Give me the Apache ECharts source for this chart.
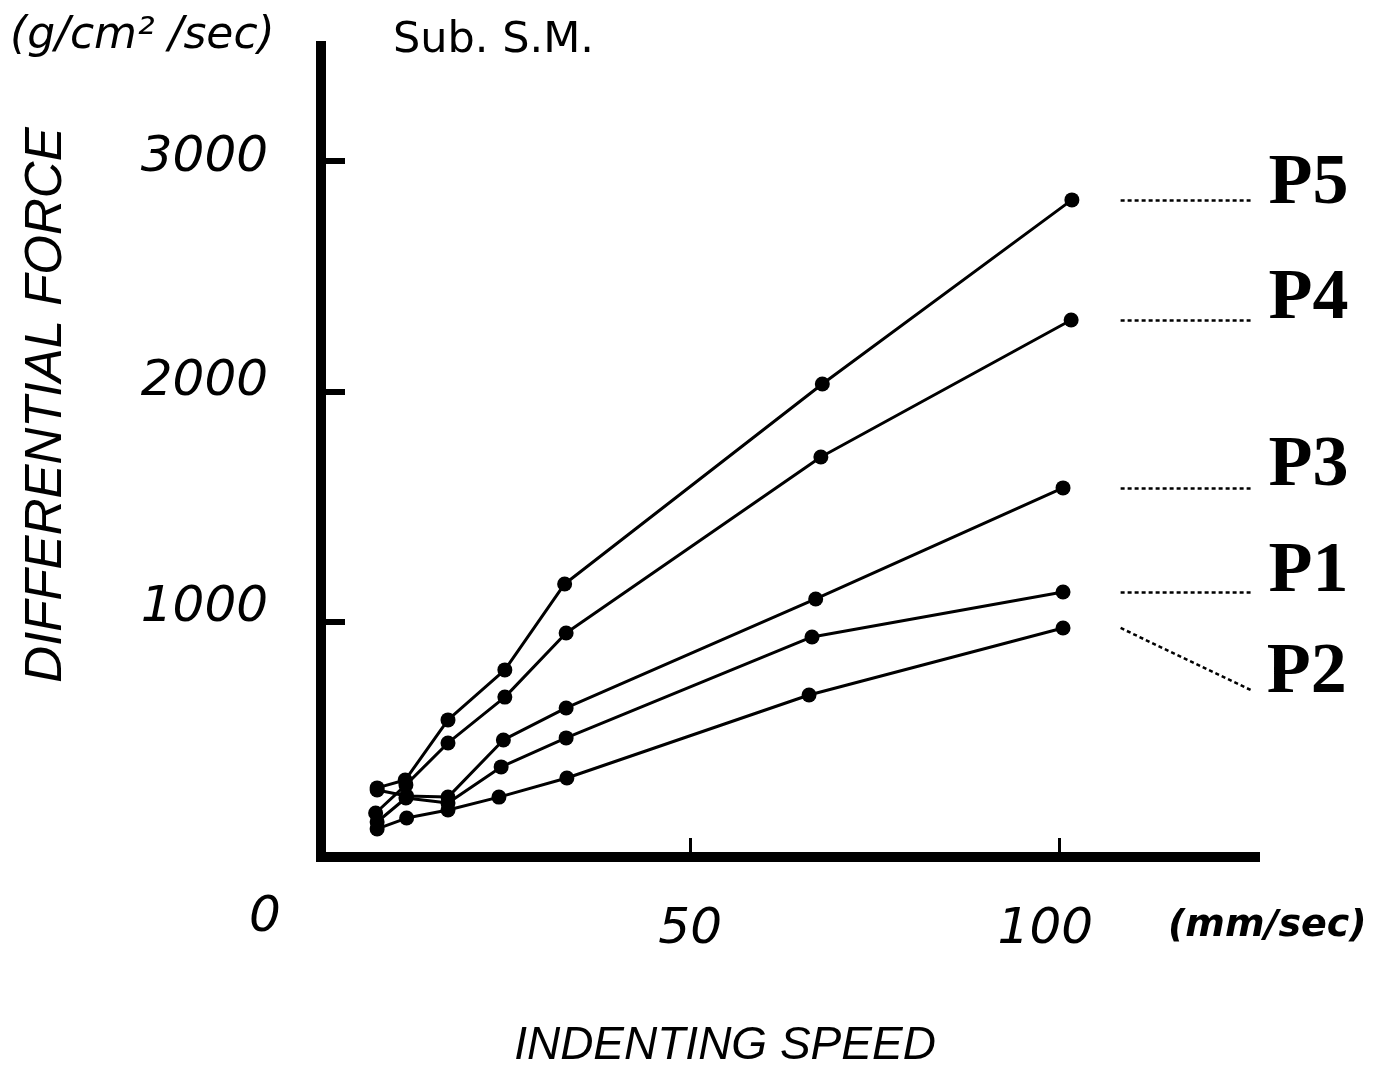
<!DOCTYPE html>
<html><head><meta charset="utf-8">
<script src="https://cdn.jsdelivr.net/npm/echarts@6.0.0/dist/echarts.min.js"></script>
<style>html,body{margin:0;padding:0;background:#fff}#c{width:1373px;height:1070px}</style>
</head><body><div id="c"></div>
<script>
// ---- data ----
const seriesNames = ['P5', 'P4', 'P3', 'P1', 'P2'];
const p5Speed = [7.6, 11.4, 17.2, 24.9, 33.0, 67.9, 101.7];
const p5Force = [280, 314, 575, 792, 1165, 2033, 2832];
const p4Speed = [7.4, 11.5, 17.2, 24.9, 33.2, 67.7, 101.6];
const p4Force = [171, 293, 475, 674, 952, 1716, 2311];
const p3Speed = [7.6, 11.6, 17.2, 24.7, 33.2, 67.0, 100.5];
const p3Force = [271, 245, 240, 488, 627, 1100, 1582];
const p1Speed = [7.6, 11.5, 17.2, 24.4, 33.2, 66.5, 100.5];
const p1Force = [132, 236, 214, 371, 497, 935, 1130];
const p2Speed = [7.6, 11.6, 17.2, 24.1, 33.3, 66.1, 100.5];
const p2Force = [102, 149, 184, 240, 323, 683, 974];
const yTickValues = [1000, 2000, 3000];
const xTickValues = [50, 100];
const xLabelValues = [0, 50, 100];
// leader lines from last point to the P labels (x values), end level of each
const leaderStartX = 108.3;
const leaderEndX = 125.9;
const leaderEndForce = [2832, 2311, 1582, 1130, 705];

const speeds = [p5Speed, p4Speed, p3Speed, p1Speed, p2Speed];
const forces = [p5Force, p4Force, p3Force, p1Force, p2Force];
const labelShift = [30, 42, 42, 40, 48];

const chart = echarts.init(document.getElementById('c'), null, {renderer: 'canvas'});

const numFont = {fontFamily: 'DejaVu Sans', fontStyle: 'italic', fontSize: 50, color: '#000', lineHeight: 54};

const series = seriesNames.map((name, k) => ({
  type: 'line',
  name: name,
  data: speeds[k].map((s, i) => [s, forces[k][i]]),
  symbol: 'circle',
  symbolSize: 15,
  itemStyle: {color: '#000'},
  lineStyle: {color: '#000', width: 3},
  animation: false,
  markLine: {
    silent: true,
    animation: false,
    symbol: ['none', 'none'],
    lineStyle: {type: [4, 3], width: 2.5, color: '#000'},
    label: {
      show: true, position: 'end', distance: 18,
      formatter: '{p|' + name + '}',
      rich: {
        p: {fontFamily: 'Liberation Serif', fontWeight: 'bold', fontSize: 72, color: '#000',
            padding: [0, 0, labelShift[k], 0]}
      }
    },
    data: [[
      {coord: [leaderStartX, forces[k][forces[k].length - 1]]},
      {coord: [leaderEndX, leaderEndForce[k]]}
    ]]
  }
}));

const option = {
  backgroundColor: '#fff',
  animation: false,
  grid: {left: 321, top: 46, width: 934, height: 811},
  xAxis: {
    type: 'value', min: 0, max: 126.5,
    axisLine: {onZero: false, lineStyle: {color: '#000', width: 10, cap: 'square'}},
    axisTick: {show: true, inside: true, length: 19, customValues: xTickValues, lineStyle: {color: '#000', width: 3}},
    splitLine: {show: false},
    axisLabel: {
      customValues: xLabelValues, margin: 34,
      formatter: v => v === 0 ? '{z|0}' : (v === 100 ? '{h|100}' : '{n|' + v + '}'),
      rich: {
        z: Object.assign({padding: [0, 112, 0, 0]}, numFont),
        n: Object.assign({padding: [24, 0, 0, 0]}, numFont),
        h: Object.assign({padding: [24, 28, 0, 0]}, numFont)
      }
    }
  },
  yAxis: {
    type: 'value', min: -20, max: 3500,
    axisLine: {onZero: false, lineStyle: {color: '#000', width: 10, cap: 'square'}},
    axisTick: {show: true, inside: true, length: 24, customValues: yTickValues, lineStyle: {color: '#000', width: 6}},
    splitLine: {show: false},
    axisLabel: {
      customValues: yTickValues, margin: 53,
      formatter: v => '{a' + (v / 1000) + '|' + v + '}',
      rich: {
        a3: Object.assign({padding: [0, 0, 6, 0]}, numFont),
        a2: Object.assign({padding: [0, 0, 20, 0]}, numFont),
        a1: Object.assign({padding: [0, 0, 28, 0]}, numFont)
      }
    }
  },
  graphic: [
    {type: 'text', left: 10, top: 15, style: {text: '(g/cm² /sec)', fontFamily: 'DejaVu Sans', fontStyle: 'italic', fontSize: 44, fill: '#000'}},
    {type: 'text', left: 393, top: 19, style: {text: 'Sub. S.M.', fontFamily: 'DejaVu Sans', fontSize: 43, fill: '#000'}},
    {type: 'text', x: 47, y: 405, rotation: Math.PI / 2, style: {text: 'DIFFERENTIAL FORCE', fontFamily: 'Liberation Sans', fontStyle: 'italic', fontSize: 51, fill: '#000', textAlign: 'center', textVerticalAlign: 'middle'}},
    {type: 'text', left: 1168, top: 907, style: {text: '(mm/sec)', fontFamily: 'DejaVu Sans', fontStyle: 'italic', fontWeight: 'bold', fontSize: 38, fill: '#000'}},
    {type: 'text', x: 725, y: 1046, style: {text: 'INDENTING SPEED', fontFamily: 'Liberation Sans', fontStyle: 'italic', fontSize: 46, fill: '#000', textAlign: 'center', textVerticalAlign: 'middle'}}
  ],
  series: series
};
chart.setOption(option);
</script></body></html>
